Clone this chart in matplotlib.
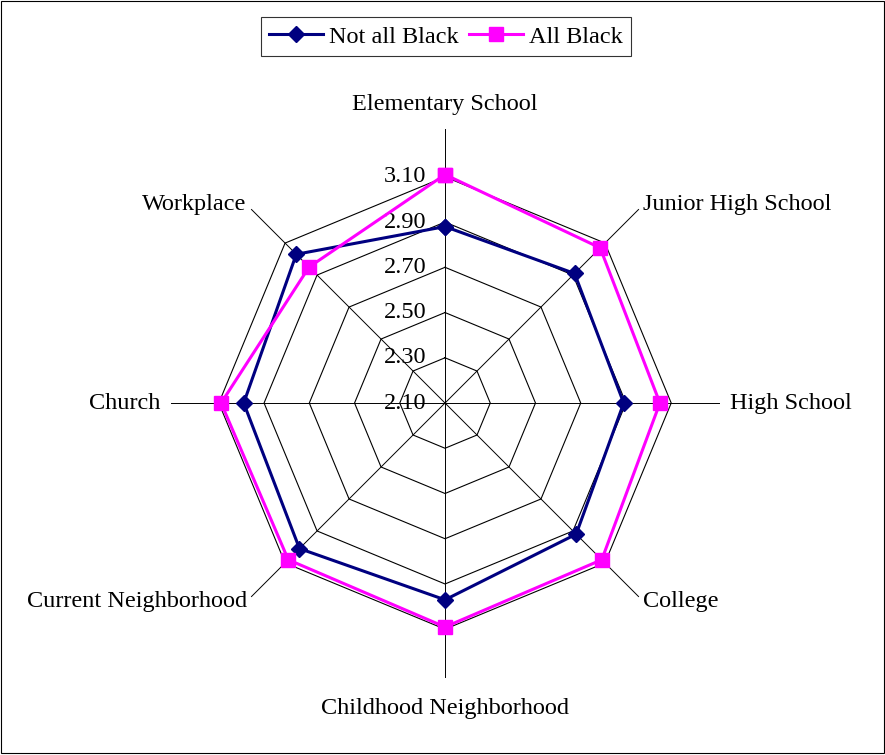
import matplotlib.pyplot as plt
import matplotlib.transforms as mtransforms
import numpy as np

categories = ["Elementary School", "Junior High School", "High School", "College",
              "Childhood Neighborhood", "Current Neighborhood", "Church", "Workplace"]
not_all_black = [2.88, 2.91, 2.89, 2.92, 2.97, 3.01, 2.99, 3.03]
all_black = [3.11, 3.07, 3.05, 3.08, 3.09, 3.08, 3.09, 2.95]
ring_values = [2.10, 2.30, 2.50, 2.70, 2.90, 3.10]
ring_labels = ["2.10", "2.30", "2.50", "2.70", "2.90", "3.10"]

plt.rcParams.update({'font.family': 'Liberation Serif', 'font.size': 17.5})

fig = plt.figure(figsize=(8.85, 7.55), dpi=100)
ax = fig.add_axes([0.191, 0.1007, 0.6237, 0.731], projection='polar')
ax.set_theta_zero_location('N')
ax.set_theta_direction(-1)
ax.set_ylim(2.10, 3.32)
ax.grid(False)
ax.spines['polar'].set_visible(False)
ax.set_xticks([])
ax.set_yticks([])
ax.patch.set_alpha(0)

n = len(categories)
angles = np.arange(n) * 2 * np.pi / n
closed = np.append(angles, angles[0])

# spokes
for a in angles:
    ax.plot([a, a], [2.10, 3.31], color='black', lw=0.7, zorder=1, clip_on=False)
# octagon rings
for r in ring_values[1:]:
    ax.plot(closed, [r] * (n + 1), color='black', lw=0.8, zorder=1, clip_on=False)

ax.plot(closed, np.append(not_all_black, not_all_black[0]), color='#000080', lw=2.2,
        marker='D', ms=8.5, label='Not all Black', zorder=3, clip_on=False)
ax.plot(closed, np.append(all_black, all_black[0]), color='#FF00FF', lw=2.2,
        marker='s', ms=10.5, label='All Black', zorder=4, clip_on=False)

# value labels along the top spoke
off = mtransforms.offset_copy(ax.transData, fig=fig, x=-19, y=0, units='dots')
for r, lab in zip(ring_values, ring_labels):
    ax.text(0, r, lab, transform=off, ha='right', va='center', fontsize=17.5)

# category labels
placements = [
    (3.42, 'center', 'center'),
    (3.34, 'left', 'center'),
    (3.36, 'left', 'center'),
    (3.34, 'left', 'center'),
    (3.45, 'center', 'center'),
    (3.34, 'right', 'center'),
    (3.36, 'right', 'center'),
    (3.34, 'right', 'center'),
]
for a, cat, (r, ha, va) in zip(angles, categories, placements):
    ax.text(a, r, cat, ha=ha, va=va, fontsize=17.5)

leg = fig.legend(loc='upper center', bbox_to_anchor=(0.504, 0.977), ncol=2,
                 frameon=True, fancybox=False, fontsize=17.5, handlelength=2.2,
                 columnspacing=0.45, handletextpad=0.25, borderpad=0.35, borderaxespad=0.0)
leg.get_frame().set_edgecolor('black')
leg.get_frame().set_linewidth(0.8)

fig.patches.append(plt.Rectangle((0.001, 0.002), 0.998, 0.997, transform=fig.transFigure,
                                 fill=False, edgecolor='black', lw=0.8))

plt.savefig('out.png', dpi=100)
